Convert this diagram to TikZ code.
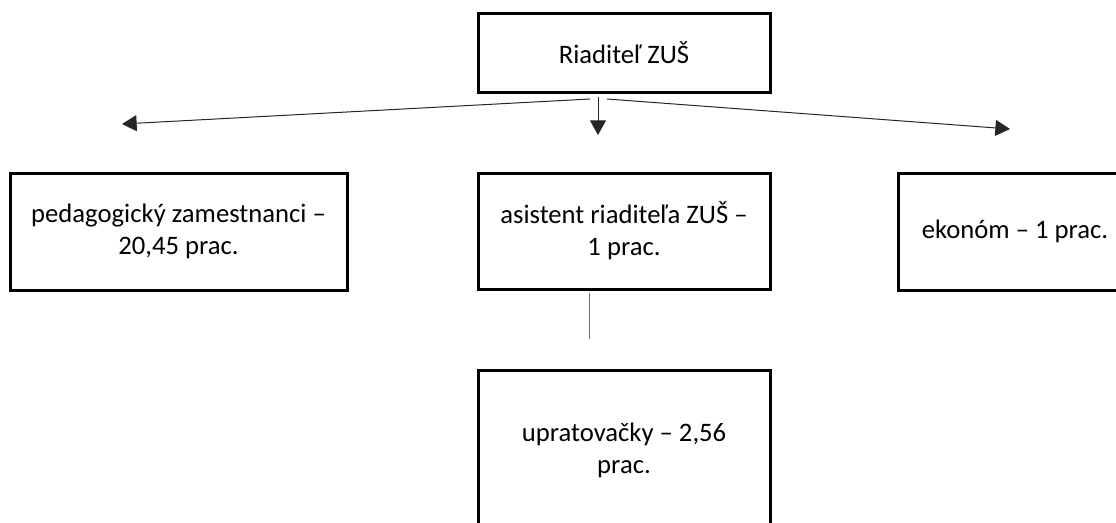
\documentclass[tikz,border=0pt]{standalone}
\usepackage{fontspec}
\setmainfont{Carlito}
\usepackage{tikz}
\usetikzlibrary{arrows.meta, positioning}
\tikzstyle{post} = [draw=black, line width=2.25pt, inner sep=0pt, align=center, font=\fontsize{20}{24}\selectfont]
\tikzstyle{arrow} = [line width=0.75pt, draw=black!85, -{Triangle[length=11pt, width=12pt]}]
\tikzstyle{line} = [line width=0.75pt, draw=black!60]

\begin{document}
\begin{tikzpicture}[x=0.75pt, y=-0.75pt]
    \useasboundingbox (0,0) rectangle (1116,522);

    \node[post, minimum width=219pt, minimum height=59.25pt] (riaditel) at (624,52.5) {Riaditeľ ZUŠ};

    \node[post, minimum width=252.75pt, minimum height=87.75pt] (pedag) at (178.5,231.5) {pedagogický zamestnanci –\\20,45 prac.};
    \node[post, minimum width=219pt, minimum height=87pt] (asist) at (624,231) {asistent riaditeľa ZUŠ –\\1 prac.};
    \node[post, minimum width=175.5pt, minimum height=87.75pt] (ekonom) at (1015,231.5) {ekonóm – 1 prac.};
    \node[post, minimum width=219pt, minimum height=120pt] (uprat) at (624,450) {upratovačky – 2,56\\prac.};

    % arrows under the director
    \coordinate (from-l) at (590,99);
    \coordinate (from-m) at (598,97);
    \coordinate (from-r) at (607,99);
    \coordinate (to-l) at (122,124);
    \coordinate (to-m) at (598,135);
    \coordinate (to-r) at (1010,129);

    \draw[arrow] (from-l) -- (to-l);
    \draw[arrow] (from-m) -- (to-m);
    \draw[arrow] (from-r) -- (to-r);

    % loose line under the assistant
    \coordinate (link-a) at (589,293);
    \coordinate (link-b) at (589,339);
    \draw[line] (link-a) -- (link-b);

\end{tikzpicture}
\end{document}
